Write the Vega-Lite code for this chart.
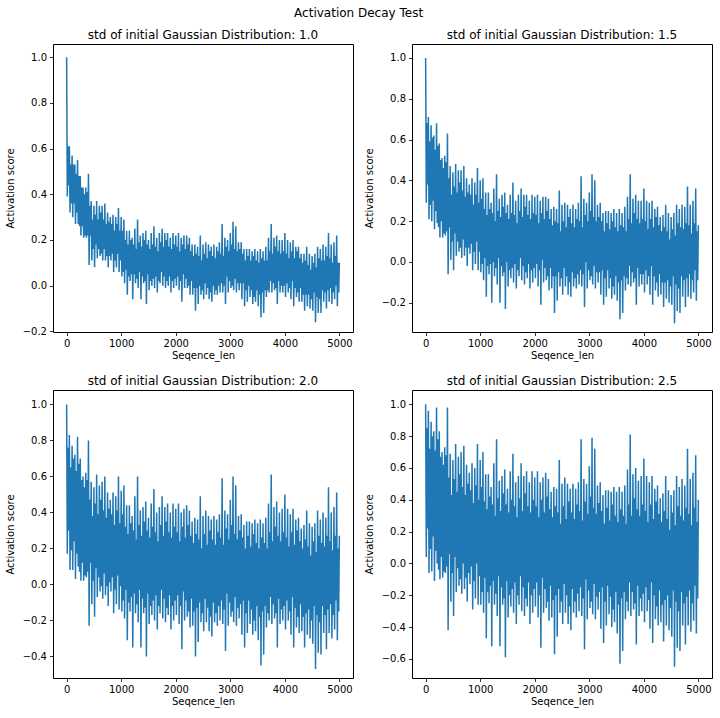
{
  "$schema": "https://vega.github.io/schema/vega-lite/v6.json",
  "padding": {"left": 4, "top": 6, "right": 5, "bottom": 5},
  "background": "white",
  "title": {"text": "Activation Decay Test", "anchor": "middle", "fontSize": 12, "fontWeight": "normal", "baseline": "alphabetic", "offset": 0},
  "columns": 2,
  "spacing": {"row": 58, "column": 59},
  "bounds": "flush",
  "datasets": {
    "s10": [
      {"x":0,"y":1.0},{"x":12,"y":0.39},{"x":25,"y":0.61},{"x":37,"y":0.44},
      {"x":50,"y":0.61},{"x":62,"y":0.32},{"x":75,"y":0.53},{"x":87,"y":0.36},
      {"x":100,"y":0.57},{"x":112,"y":0.30},{"x":125,"y":0.53},{"x":137,"y":0.36},
      {"x":150,"y":0.53},{"x":162,"y":0.27},{"x":175,"y":0.49},{"x":187,"y":0.32},
      {"x":200,"y":0.55},{"x":212,"y":0.27},{"x":225,"y":0.48},{"x":237,"y":0.26},
      {"x":250,"y":0.48},{"x":262,"y":0.22},{"x":275,"y":0.43},{"x":287,"y":0.26},
      {"x":300,"y":0.43},{"x":312,"y":0.21},{"x":325,"y":0.40},{"x":337,"y":0.22},
      {"x":350,"y":0.43},{"x":362,"y":0.21},{"x":375,"y":0.41},{"x":387,"y":0.22},
      {"x":400,"y":0.49},{"x":412,"y":0.09},{"x":425,"y":0.35},{"x":437,"y":0.22},
      {"x":450,"y":0.37},{"x":462,"y":0.11},{"x":475,"y":0.29},{"x":487,"y":0.16},
      {"x":500,"y":0.35},{"x":512,"y":0.08},{"x":525,"y":0.31},{"x":537,"y":0.18},
      {"x":550,"y":0.37},{"x":562,"y":0.12},{"x":575,"y":0.29},{"x":587,"y":0.16},
      {"x":600,"y":0.35},{"x":612,"y":0.13},{"x":625,"y":0.32},{"x":637,"y":0.14},
      {"x":650,"y":0.35},{"x":662,"y":0.11},{"x":675,"y":0.29},{"x":687,"y":0.16},
      {"x":700,"y":0.36},{"x":712,"y":0.11},{"x":725,"y":0.27},{"x":737,"y":0.13},
      {"x":750,"y":0.32},{"x":762,"y":0.08},{"x":775,"y":0.28},{"x":787,"y":0.13},
      {"x":800,"y":0.30},{"x":812,"y":0.11},{"x":825,"y":0.27},{"x":837,"y":0.14},
      {"x":850,"y":0.31},{"x":862,"y":0.06},{"x":875,"y":0.24},{"x":887,"y":0.11},
      {"x":900,"y":0.30},{"x":912,"y":0.08},{"x":925,"y":0.27},{"x":937,"y":0.14},
      {"x":950,"y":0.34},{"x":962,"y":0.06},{"x":975,"y":0.24},{"x":987,"y":0.11},
      {"x":1000,"y":0.30},{"x":1012,"y":0.04},{"x":1025,"y":0.24},{"x":1037,"y":0.06},
      {"x":1050,"y":0.29},{"x":1062,"y":0.01},{"x":1075,"y":0.20},{"x":1087,"y":0.07},
      {"x":1100,"y":0.24},{"x":1112,"y":-0.04},{"x":1125,"y":0.18},{"x":1137,"y":0.04},
      {"x":1150,"y":0.24},{"x":1162,"y":0.02},{"x":1175,"y":0.20},{"x":1187,"y":0.05},
      {"x":1200,"y":0.21},{"x":1212,"y":-0.06},{"x":1225,"y":0.18},{"x":1237,"y":0.05},
      {"x":1250,"y":0.25},{"x":1262,"y":0.01},{"x":1275,"y":0.16},{"x":1287,"y":0.03},
      {"x":1300,"y":0.29},{"x":1312,"y":-0.01},{"x":1325,"y":0.19},{"x":1337,"y":0.06},
      {"x":1350,"y":0.22},{"x":1362,"y":-0.06},{"x":1375,"y":0.17},{"x":1387,"y":0.04},
      {"x":1400,"y":0.23},{"x":1412,"y":0.01},{"x":1425,"y":0.20},{"x":1437,"y":0.02},
      {"x":1450,"y":0.24},{"x":1462,"y":-0.08},{"x":1475,"y":0.18},{"x":1487,"y":0.05},
      {"x":1500,"y":0.20},{"x":1512,"y":-0.02},{"x":1525,"y":0.16},{"x":1537,"y":0.02},
      {"x":1550,"y":0.23},{"x":1562,"y":0.00},{"x":1575,"y":0.18},{"x":1587,"y":0.03},
      {"x":1600,"y":0.26},{"x":1612,"y":-0.01},{"x":1625,"y":0.17},{"x":1637,"y":0.04},
      {"x":1650,"y":0.21},{"x":1662,"y":-0.03},{"x":1675,"y":0.15},{"x":1687,"y":0.02},
      {"x":1700,"y":0.23},{"x":1712,"y":0.01},{"x":1725,"y":0.19},{"x":1737,"y":0.06},
      {"x":1750,"y":0.25},{"x":1762,"y":0.00},{"x":1775,"y":0.17},{"x":1787,"y":0.04},
      {"x":1800,"y":0.23},{"x":1812,"y":-0.01},{"x":1825,"y":0.20},{"x":1837,"y":0.02},
      {"x":1850,"y":0.23},{"x":1862,"y":0.00},{"x":1875,"y":0.17},{"x":1887,"y":0.04},
      {"x":1900,"y":0.21},{"x":1912,"y":-0.03},{"x":1925,"y":0.16},{"x":1937,"y":0.02},
      {"x":1950,"y":0.23},{"x":1962,"y":-0.01},{"x":1975,"y":0.18},{"x":1987,"y":0.03},
      {"x":2000,"y":0.22},{"x":2012,"y":0.00},{"x":2025,"y":0.17},{"x":2037,"y":0.04},
      {"x":2050,"y":0.23},{"x":2062,"y":-0.02},{"x":2075,"y":0.15},{"x":2087,"y":0.02},
      {"x":2100,"y":0.21},{"x":2112,"y":-0.07},{"x":2125,"y":0.18},{"x":2137,"y":0.05},
      {"x":2150,"y":0.22},{"x":2162,"y":-0.01},{"x":2175,"y":0.16},{"x":2187,"y":0.03},
      {"x":2200,"y":0.22},{"x":2212,"y":-0.01},{"x":2225,"y":0.18},{"x":2237,"y":0.00},
      {"x":2250,"y":0.21},{"x":2262,"y":-0.04},{"x":2275,"y":0.15},{"x":2287,"y":0.02},
      {"x":2300,"y":0.18},{"x":2312,"y":-0.04},{"x":2325,"y":0.13},{"x":2337,"y":-0.01},
      {"x":2350,"y":0.18},{"x":2362,"y":-0.11},{"x":2375,"y":0.14},{"x":2387,"y":-0.01},
      {"x":2400,"y":0.17},{"x":2412,"y":-0.08},{"x":2425,"y":0.13},{"x":2437,"y":0.00},
      {"x":2450,"y":0.22},{"x":2462,"y":-0.04},{"x":2475,"y":0.11},{"x":2487,"y":-0.02},
      {"x":2500,"y":0.18},{"x":2512,"y":-0.06},{"x":2525,"y":0.14},{"x":2537,"y":0.01},
      {"x":2550,"y":0.19},{"x":2562,"y":-0.04},{"x":2575,"y":0.12},{"x":2587,"y":-0.01},
      {"x":2600,"y":0.18},{"x":2612,"y":-0.06},{"x":2625,"y":0.15},{"x":2637,"y":-0.03},
      {"x":2650,"y":0.17},{"x":2662,"y":-0.07},{"x":2675,"y":0.13},{"x":2687,"y":0.00},
      {"x":2700,"y":0.18},{"x":2712,"y":-0.04},{"x":2725,"y":0.12},{"x":2737,"y":-0.02},
      {"x":2750,"y":0.17},{"x":2762,"y":-0.04},{"x":2775,"y":0.15},{"x":2787,"y":0.00},
      {"x":2800,"y":0.19},{"x":2812,"y":-0.03},{"x":2825,"y":0.14},{"x":2837,"y":0.01},
      {"x":2850,"y":0.27},{"x":2862,"y":-0.03},{"x":2875,"y":0.13},{"x":2887,"y":0.00},
      {"x":2900,"y":0.21},{"x":2912,"y":-0.08},{"x":2925,"y":0.17},{"x":2937,"y":0.04},
      {"x":2950,"y":0.20},{"x":2962,"y":-0.03},{"x":2975,"y":0.15},{"x":2987,"y":0.02},
      {"x":3000,"y":0.23},{"x":3012,"y":-0.01},{"x":3025,"y":0.18},{"x":3037,"y":0.00},
      {"x":3050,"y":0.28},{"x":3062,"y":-0.02},{"x":3075,"y":0.16},{"x":3087,"y":0.03},
      {"x":3100,"y":0.26},{"x":3112,"y":-0.03},{"x":3125,"y":0.15},{"x":3137,"y":0.01},
      {"x":3150,"y":0.19},{"x":3162,"y":-0.02},{"x":3175,"y":0.16},{"x":3187,"y":0.01},
      {"x":3200,"y":0.19},{"x":3212,"y":-0.06},{"x":3225,"y":0.14},{"x":3237,"y":0.01},
      {"x":3250,"y":0.16},{"x":3262,"y":-0.09},{"x":3275,"y":0.11},{"x":3287,"y":-0.02},
      {"x":3300,"y":0.16},{"x":3312,"y":-0.07},{"x":3325,"y":0.13},{"x":3337,"y":0.00},
      {"x":3350,"y":0.16},{"x":3362,"y":-0.05},{"x":3375,"y":0.11},{"x":3387,"y":-0.02},
      {"x":3400,"y":0.15},{"x":3412,"y":-0.08},{"x":3425,"y":0.13},{"x":3437,"y":-0.05},
      {"x":3450,"y":0.16},{"x":3462,"y":-0.07},{"x":3475,"y":0.11},{"x":3487,"y":-0.02},
      {"x":3500,"y":0.15},{"x":3512,"y":-0.09},{"x":3525,"y":0.10},{"x":3537,"y":-0.04},
      {"x":3550,"y":0.16},{"x":3562,"y":-0.14},{"x":3575,"y":0.12},{"x":3587,"y":-0.03},
      {"x":3600,"y":0.15},{"x":3612,"y":-0.12},{"x":3625,"y":0.11},{"x":3637,"y":-0.02},
      {"x":3650,"y":0.17},{"x":3662,"y":-0.05},{"x":3675,"y":0.11},{"x":3687,"y":-0.02},
      {"x":3700,"y":0.21},{"x":3712,"y":-0.03},{"x":3725,"y":0.15},{"x":3737,"y":0.02},
      {"x":3750,"y":0.27},{"x":3762,"y":-0.03},{"x":3775,"y":0.14},{"x":3787,"y":0.01},
      {"x":3800,"y":0.21},{"x":3812,"y":-0.02},{"x":3825,"y":0.17},{"x":3837,"y":-0.01},
      {"x":3850,"y":0.22},{"x":3862,"y":-0.08},{"x":3875,"y":0.15},{"x":3887,"y":0.02},
      {"x":3900,"y":0.20},{"x":3912,"y":-0.03},{"x":3925,"y":0.14},{"x":3937,"y":0.00},
      {"x":3950,"y":0.20},{"x":3962,"y":-0.03},{"x":3975,"y":0.15},{"x":3987,"y":0.00},
      {"x":4000,"y":0.23},{"x":4012,"y":-0.05},{"x":4025,"y":0.14},{"x":4037,"y":0.01},
      {"x":4050,"y":0.20},{"x":4062,"y":-0.03},{"x":4075,"y":0.12},{"x":4087,"y":-0.01},
      {"x":4100,"y":0.19},{"x":4112,"y":-0.06},{"x":4125,"y":0.15},{"x":4137,"y":0.02},
      {"x":4150,"y":0.20},{"x":4162,"y":-0.09},{"x":4175,"y":0.12},{"x":4187,"y":-0.01},
      {"x":4200,"y":0.17},{"x":4212,"y":-0.05},{"x":4225,"y":0.15},{"x":4237,"y":-0.03},
      {"x":4250,"y":0.17},{"x":4262,"y":-0.07},{"x":4275,"y":0.12},{"x":4287,"y":-0.01},
      {"x":4300,"y":0.14},{"x":4312,"y":-0.07},{"x":4325,"y":0.10},{"x":4337,"y":-0.04},
      {"x":4350,"y":0.14},{"x":4362,"y":-0.11},{"x":4375,"y":0.11},{"x":4387,"y":-0.04},
      {"x":4400,"y":0.17},{"x":4412,"y":-0.09},{"x":4425,"y":0.09},{"x":4437,"y":-0.04},
      {"x":4450,"y":0.14},{"x":4462,"y":-0.10},{"x":4475,"y":0.07},{"x":4487,"y":-0.06},
      {"x":4500,"y":0.13},{"x":4512,"y":-0.11},{"x":4525,"y":0.10},{"x":4537,"y":-0.03},
      {"x":4550,"y":0.14},{"x":4562,"y":-0.16},{"x":4575,"y":0.08},{"x":4587,"y":-0.05},
      {"x":4600,"y":0.17},{"x":4612,"y":-0.12},{"x":4625,"y":0.12},{"x":4637,"y":-0.06},
      {"x":4650,"y":0.16},{"x":4662,"y":-0.12},{"x":4675,"y":0.11},{"x":4687,"y":-0.02},
      {"x":4700,"y":0.18},{"x":4712,"y":-0.07},{"x":4725,"y":0.11},{"x":4737,"y":-0.03},
      {"x":4750,"y":0.17},{"x":4762,"y":-0.10},{"x":4775,"y":0.13},{"x":4787,"y":-0.02},
      {"x":4800,"y":0.23},{"x":4812,"y":-0.07},{"x":4825,"y":0.12},{"x":4837,"y":-0.01},
      {"x":4850,"y":0.18},{"x":4862,"y":-0.08},{"x":4875,"y":0.10},{"x":4887,"y":-0.03},
      {"x":4900,"y":0.19},{"x":4912,"y":-0.06},{"x":4925,"y":0.13},{"x":4937,"y":0.00},
      {"x":4950,"y":0.22},{"x":4962,"y":-0.09},{"x":4975,"y":0.10},{"x":4987,"y":-0.03},
      {"x":4999,"y":0.10}
    ],
    "s15": [
      {"x":0,"y":1.0},{"x":12,"y":0.29},{"x":25,"y":0.68},{"x":37,"y":0.38},
      {"x":50,"y":0.71},{"x":62,"y":0.21},{"x":75,"y":0.59},{"x":87,"y":0.28},
      {"x":100,"y":0.67},{"x":112,"y":0.20},{"x":125,"y":0.61},{"x":137,"y":0.30},
      {"x":150,"y":0.62},{"x":162,"y":0.16},{"x":175,"y":0.55},{"x":187,"y":0.25},
      {"x":200,"y":0.68},{"x":212,"y":0.19},{"x":225,"y":0.57},{"x":237,"y":0.17},
      {"x":250,"y":0.58},{"x":262,"y":0.12},{"x":275,"y":0.50},{"x":287,"y":0.20},
      {"x":300,"y":0.51},{"x":312,"y":0.12},{"x":325,"y":0.46},{"x":337,"y":0.14},
      {"x":350,"y":0.52},{"x":362,"y":0.13},{"x":375,"y":0.49},{"x":387,"y":0.15},
      {"x":400,"y":0.63},{"x":412,"y":-0.06},{"x":425,"y":0.41},{"x":437,"y":0.17},
      {"x":450,"y":0.47},{"x":462,"y":0.01},{"x":475,"y":0.33},{"x":487,"y":0.10},
      {"x":500,"y":0.44},{"x":512,"y":-0.04},{"x":525,"y":0.37},{"x":537,"y":0.14},
      {"x":550,"y":0.48},{"x":562,"y":0.03},{"x":575,"y":0.34},{"x":587,"y":0.10},
      {"x":600,"y":0.45},{"x":612,"y":0.05},{"x":625,"y":0.39},{"x":637,"y":0.07},
      {"x":650,"y":0.45},{"x":662,"y":0.02},{"x":675,"y":0.35},{"x":687,"y":0.11},
      {"x":700,"y":0.47},{"x":712,"y":0.03},{"x":725,"y":0.32},{"x":737,"y":0.07},
      {"x":750,"y":0.41},{"x":762,"y":-0.02},{"x":775,"y":0.34},{"x":787,"y":0.07},
      {"x":800,"y":0.38},{"x":812,"y":0.04},{"x":825,"y":0.33},{"x":837,"y":0.09},
      {"x":850,"y":0.41},{"x":862,"y":-0.04},{"x":875,"y":0.28},{"x":887,"y":0.05},
      {"x":900,"y":0.39},{"x":912,"y":-0.01},{"x":925,"y":0.33},{"x":937,"y":0.10},
      {"x":950,"y":0.46},{"x":962,"y":-0.04},{"x":975,"y":0.29},{"x":987,"y":0.05},
      {"x":1000,"y":0.40},{"x":1012,"y":-0.05},{"x":1025,"y":0.31},{"x":1037,"y":-0.01},
      {"x":1050,"y":0.41},{"x":1062,"y":-0.09},{"x":1075,"y":0.26},{"x":1087,"y":0.02},
      {"x":1100,"y":0.34},{"x":1112,"y":-0.17},{"x":1125,"y":0.23},{"x":1137,"y":-0.02},
      {"x":1150,"y":0.34},{"x":1162,"y":-0.06},{"x":1175,"y":0.26},{"x":1187,"y":-0.01},
      {"x":1200,"y":0.29},{"x":1212,"y":-0.20},{"x":1225,"y":0.24},{"x":1237,"y":0.00},
      {"x":1250,"y":0.36},{"x":1262,"y":-0.07},{"x":1275,"y":0.20},{"x":1287,"y":-0.03},
      {"x":1300,"y":0.43},{"x":1312,"y":-0.11},{"x":1325,"y":0.25},{"x":1337,"y":0.02},
      {"x":1350,"y":0.31},{"x":1362,"y":-0.20},{"x":1375,"y":0.22},{"x":1387,"y":-0.02},
      {"x":1400,"y":0.33},{"x":1412,"y":-0.07},{"x":1425,"y":0.27},{"x":1437,"y":-0.05},
      {"x":1450,"y":0.34},{"x":1462,"y":-0.23},{"x":1475,"y":0.24},{"x":1487,"y":0.00},
      {"x":1500,"y":0.28},{"x":1512,"y":-0.12},{"x":1525,"y":0.21},{"x":1537,"y":-0.04},
      {"x":1550,"y":0.33},{"x":1562,"y":-0.08},{"x":1575,"y":0.24},{"x":1587,"y":-0.03},
      {"x":1600,"y":0.39},{"x":1612,"y":-0.10},{"x":1625,"y":0.23},{"x":1637,"y":-0.01},
      {"x":1650,"y":0.30},{"x":1662,"y":-0.13},{"x":1675,"y":0.19},{"x":1687,"y":-0.04},
      {"x":1700,"y":0.33},{"x":1712,"y":-0.07},{"x":1725,"y":0.25},{"x":1737,"y":0.02},
      {"x":1750,"y":0.36},{"x":1762,"y":-0.09},{"x":1775,"y":0.22},{"x":1787,"y":-0.02},
      {"x":1800,"y":0.33},{"x":1812,"y":-0.11},{"x":1825,"y":0.27},{"x":1837,"y":-0.05},
      {"x":1850,"y":0.33},{"x":1862,"y":-0.08},{"x":1875,"y":0.23},{"x":1887,"y":-0.01},
      {"x":1900,"y":0.30},{"x":1912,"y":-0.13},{"x":1925,"y":0.21},{"x":1937,"y":-0.04},
      {"x":1950,"y":0.33},{"x":1962,"y":-0.10},{"x":1975,"y":0.24},{"x":1987,"y":-0.03},
      {"x":2000,"y":0.32},{"x":2012,"y":-0.08},{"x":2025,"y":0.23},{"x":2037,"y":-0.01},
      {"x":2050,"y":0.33},{"x":2062,"y":-0.12},{"x":2075,"y":0.19},{"x":2087,"y":-0.04},
      {"x":2100,"y":0.30},{"x":2112,"y":-0.21},{"x":2125,"y":0.24},{"x":2137,"y":0.01},
      {"x":2150,"y":0.32},{"x":2162,"y":-0.10},{"x":2175,"y":0.21},{"x":2187,"y":-0.03},
      {"x":2200,"y":0.32},{"x":2212,"y":-0.09},{"x":2225,"y":0.25},{"x":2237,"y":-0.07},
      {"x":2250,"y":0.31},{"x":2262,"y":-0.14},{"x":2275,"y":0.21},{"x":2287,"y":-0.03},
      {"x":2300,"y":0.26},{"x":2312,"y":-0.13},{"x":2325,"y":0.18},{"x":2337,"y":-0.07},
      {"x":2350,"y":0.27},{"x":2362,"y":-0.25},{"x":2375,"y":0.20},{"x":2387,"y":-0.07},
      {"x":2400,"y":0.26},{"x":2412,"y":-0.19},{"x":2425,"y":0.19},{"x":2437,"y":-0.05},
      {"x":2450,"y":0.35},{"x":2462,"y":-0.12},{"x":2475,"y":0.15},{"x":2487,"y":-0.08},
      {"x":2500,"y":0.28},{"x":2512,"y":-0.16},{"x":2525,"y":0.20},{"x":2537,"y":-0.03},
      {"x":2550,"y":0.29},{"x":2562,"y":-0.12},{"x":2575,"y":0.17},{"x":2587,"y":-0.07},
      {"x":2600,"y":0.28},{"x":2612,"y":-0.16},{"x":2625,"y":0.22},{"x":2637,"y":-0.10},
      {"x":2650,"y":0.26},{"x":2662,"y":-0.17},{"x":2675,"y":0.19},{"x":2687,"y":-0.05},
      {"x":2700,"y":0.28},{"x":2712,"y":-0.12},{"x":2725,"y":0.17},{"x":2737,"y":-0.08},
      {"x":2750,"y":0.26},{"x":2762,"y":-0.13},{"x":2775,"y":0.21},{"x":2787,"y":-0.06},
      {"x":2800,"y":0.29},{"x":2812,"y":-0.11},{"x":2825,"y":0.20},{"x":2837,"y":-0.04},
      {"x":2850,"y":0.42},{"x":2862,"y":-0.12},{"x":2875,"y":0.17},{"x":2887,"y":-0.06},
      {"x":2900,"y":0.31},{"x":2912,"y":-0.22},{"x":2925,"y":0.23},{"x":2937,"y":0.00},
      {"x":2950,"y":0.29},{"x":2962,"y":-0.13},{"x":2975,"y":0.20},{"x":2987,"y":-0.04},
      {"x":3000,"y":0.34},{"x":3012,"y":-0.09},{"x":3025,"y":0.25},{"x":3037,"y":-0.07},
      {"x":3050,"y":0.43},{"x":3062,"y":-0.11},{"x":3075,"y":0.22},{"x":3087,"y":-0.02},
      {"x":3100,"y":0.40},{"x":3112,"y":-0.13},{"x":3125,"y":0.20},{"x":3137,"y":-0.05},
      {"x":3150,"y":0.28},{"x":3162,"y":-0.10},{"x":3175,"y":0.22},{"x":3187,"y":-0.05},
      {"x":3200,"y":0.29},{"x":3212,"y":-0.16},{"x":3225,"y":0.20},{"x":3237,"y":-0.04},
      {"x":3250,"y":0.24},{"x":3262,"y":-0.21},{"x":3275,"y":0.15},{"x":3287,"y":-0.08},
      {"x":3300,"y":0.25},{"x":3312,"y":-0.17},{"x":3325,"y":0.19},{"x":3337,"y":-0.04},
      {"x":3350,"y":0.25},{"x":3362,"y":-0.13},{"x":3375,"y":0.16},{"x":3387,"y":-0.08},
      {"x":3400,"y":0.24},{"x":3412,"y":-0.18},{"x":3425,"y":0.20},{"x":3437,"y":-0.12},
      {"x":3450,"y":0.26},{"x":3462,"y":-0.16},{"x":3475,"y":0.17},{"x":3487,"y":-0.07},
      {"x":3500,"y":0.24},{"x":3512,"y":-0.19},{"x":3525,"y":0.15},{"x":3537,"y":-0.10},
      {"x":3550,"y":0.26},{"x":3562,"y":-0.28},{"x":3575,"y":0.18},{"x":3587,"y":-0.09},
      {"x":3600,"y":0.24},{"x":3612,"y":-0.25},{"x":3625,"y":0.17},{"x":3637,"y":-0.07},
      {"x":3650,"y":0.27},{"x":3662,"y":-0.14},{"x":3675,"y":0.15},{"x":3687,"y":-0.08},
      {"x":3700,"y":0.32},{"x":3712,"y":-0.11},{"x":3725,"y":0.21},{"x":3737,"y":-0.02},
      {"x":3750,"y":0.43},{"x":3762,"y":-0.12},{"x":3775,"y":0.19},{"x":3787,"y":-0.05},
      {"x":3800,"y":0.31},{"x":3812,"y":-0.10},{"x":3825,"y":0.24},{"x":3837,"y":-0.08},
      {"x":3850,"y":0.33},{"x":3862,"y":-0.21},{"x":3875,"y":0.21},{"x":3887,"y":-0.03},
      {"x":3900,"y":0.30},{"x":3912,"y":-0.12},{"x":3925,"y":0.19},{"x":3937,"y":-0.06},
      {"x":3950,"y":0.30},{"x":3962,"y":-0.11},{"x":3975,"y":0.21},{"x":3987,"y":-0.06},
      {"x":4000,"y":0.36},{"x":4012,"y":-0.15},{"x":4025,"y":0.20},{"x":4037,"y":-0.04},
      {"x":4050,"y":0.30},{"x":4062,"y":-0.11},{"x":4075,"y":0.16},{"x":4087,"y":-0.07},
      {"x":4100,"y":0.29},{"x":4112,"y":-0.16},{"x":4125,"y":0.21},{"x":4137,"y":-0.02},
      {"x":4150,"y":0.30},{"x":4162,"y":-0.21},{"x":4175,"y":0.17},{"x":4187,"y":-0.07},
      {"x":4200,"y":0.26},{"x":4212,"y":-0.14},{"x":4225,"y":0.22},{"x":4237,"y":-0.10},
      {"x":4250,"y":0.27},{"x":4262,"y":-0.17},{"x":4275,"y":0.18},{"x":4287,"y":-0.06},
      {"x":4300,"y":0.22},{"x":4312,"y":-0.16},{"x":4325,"y":0.15},{"x":4337,"y":-0.10},
      {"x":4350,"y":0.23},{"x":4362,"y":-0.22},{"x":4375,"y":0.17},{"x":4387,"y":-0.10},
      {"x":4400,"y":0.28},{"x":4412,"y":-0.18},{"x":4425,"y":0.15},{"x":4437,"y":-0.09},
      {"x":4450,"y":0.24},{"x":4462,"y":-0.20},{"x":4475,"y":0.11},{"x":4487,"y":-0.12},
      {"x":4500,"y":0.22},{"x":4512,"y":-0.21},{"x":4525,"y":0.16},{"x":4537,"y":-0.07},
      {"x":4550,"y":0.24},{"x":4562,"y":-0.30},{"x":4575,"y":0.13},{"x":4587,"y":-0.11},
      {"x":4600,"y":0.28},{"x":4612,"y":-0.24},{"x":4625,"y":0.19},{"x":4637,"y":-0.13},
      {"x":4650,"y":0.26},{"x":4662,"y":-0.25},{"x":4675,"y":0.17},{"x":4687,"y":-0.07},
      {"x":4700,"y":0.28},{"x":4712,"y":-0.17},{"x":4725,"y":0.16},{"x":4737,"y":-0.09},
      {"x":4750,"y":0.27},{"x":4762,"y":-0.22},{"x":4775,"y":0.19},{"x":4787,"y":-0.08},
      {"x":4800,"y":0.37},{"x":4812,"y":-0.17},{"x":4825,"y":0.18},{"x":4837,"y":-0.06},
      {"x":4850,"y":0.28},{"x":4862,"y":-0.18},{"x":4875,"y":0.14},{"x":4887,"y":-0.09},
      {"x":4900,"y":0.30},{"x":4912,"y":-0.15},{"x":4925,"y":0.19},{"x":4937,"y":-0.04},
      {"x":4950,"y":0.36},{"x":4962,"y":-0.19},{"x":4975,"y":0.15},{"x":4987,"y":-0.09},
      {"x":4999,"y":0.18}
    ],
    "s20": [
      {"x":0,"y":1.0},{"x":12,"y":0.17},{"x":25,"y":0.76},{"x":37,"y":0.30},
      {"x":50,"y":0.83},{"x":62,"y":0.08},{"x":75,"y":0.65},{"x":87,"y":0.19},
      {"x":100,"y":0.77},{"x":112,"y":0.08},{"x":125,"y":0.70},{"x":137,"y":0.24},
      {"x":150,"y":0.72},{"x":162,"y":0.03},{"x":175,"y":0.63},{"x":187,"y":0.17},
      {"x":200,"y":0.82},{"x":212,"y":0.10},{"x":225,"y":0.67},{"x":237,"y":0.07},
      {"x":250,"y":0.70},{"x":262,"y":0.02},{"x":275,"y":0.58},{"x":287,"y":0.12},
      {"x":300,"y":0.60},{"x":312,"y":0.02},{"x":325,"y":0.54},{"x":337,"y":0.05},
      {"x":350,"y":0.62},{"x":362,"y":0.04},{"x":375,"y":0.58},{"x":387,"y":0.07},
      {"x":400,"y":0.80},{"x":412,"y":-0.23},{"x":425,"y":0.47},{"x":437,"y":0.12},
      {"x":450,"y":0.57},{"x":462,"y":-0.11},{"x":475,"y":0.38},{"x":487,"y":0.02},
      {"x":500,"y":0.54},{"x":512,"y":-0.18},{"x":525,"y":0.45},{"x":537,"y":0.09},
      {"x":550,"y":0.61},{"x":562,"y":-0.07},{"x":575,"y":0.39},{"x":587,"y":0.04},
      {"x":600,"y":0.55},{"x":612,"y":-0.04},{"x":625,"y":0.47},{"x":637,"y":-0.01},
      {"x":650,"y":0.57},{"x":662,"y":-0.08},{"x":675,"y":0.41},{"x":687,"y":0.06},
      {"x":700,"y":0.60},{"x":712,"y":-0.06},{"x":725,"y":0.37},{"x":737,"y":-0.01},
      {"x":750,"y":0.51},{"x":762,"y":-0.12},{"x":775,"y":0.42},{"x":787,"y":0.01},
      {"x":800,"y":0.47},{"x":812,"y":-0.04},{"x":825,"y":0.39},{"x":837,"y":0.04},
      {"x":850,"y":0.51},{"x":862,"y":-0.16},{"x":875,"y":0.33},{"x":887,"y":-0.03},
      {"x":900,"y":0.49},{"x":912,"y":-0.11},{"x":925,"y":0.41},{"x":937,"y":0.05},
      {"x":950,"y":0.60},{"x":962,"y":-0.14},{"x":975,"y":0.34},{"x":987,"y":-0.01},
      {"x":1000,"y":0.52},{"x":1012,"y":-0.15},{"x":1025,"y":0.39},{"x":1037,"y":-0.09},
      {"x":1050,"y":0.55},{"x":1062,"y":-0.19},{"x":1075,"y":0.32},{"x":1087,"y":-0.03},
      {"x":1100,"y":0.44},{"x":1112,"y":-0.31},{"x":1125,"y":0.28},{"x":1137,"y":-0.10},
      {"x":1150,"y":0.44},{"x":1162,"y":-0.15},{"x":1175,"y":0.34},{"x":1187,"y":-0.07},
      {"x":1200,"y":0.38},{"x":1212,"y":-0.35},{"x":1225,"y":0.30},{"x":1237,"y":-0.05},
      {"x":1250,"y":0.49},{"x":1262,"y":-0.16},{"x":1275,"y":0.25},{"x":1287,"y":-0.11},
      {"x":1300,"y":0.60},{"x":1312,"y":-0.21},{"x":1325,"y":0.33},{"x":1337,"y":-0.03},
      {"x":1350,"y":0.41},{"x":1362,"y":-0.35},{"x":1375,"y":0.27},{"x":1387,"y":-0.08},
      {"x":1400,"y":0.43},{"x":1412,"y":-0.16},{"x":1425,"y":0.35},{"x":1437,"y":-0.13},
      {"x":1450,"y":0.46},{"x":1462,"y":-0.40},{"x":1475,"y":0.30},{"x":1487,"y":-0.05},
      {"x":1500,"y":0.37},{"x":1512,"y":-0.22},{"x":1525,"y":0.26},{"x":1537,"y":-0.12},
      {"x":1550,"y":0.45},{"x":1562,"y":-0.17},{"x":1575,"y":0.32},{"x":1587,"y":-0.09},
      {"x":1600,"y":0.53},{"x":1612,"y":-0.20},{"x":1625,"y":0.29},{"x":1637,"y":-0.06},
      {"x":1650,"y":0.40},{"x":1662,"y":-0.25},{"x":1675,"y":0.24},{"x":1687,"y":-0.12},
      {"x":1700,"y":0.43},{"x":1712,"y":-0.16},{"x":1725,"y":0.33},{"x":1737,"y":-0.03},
      {"x":1750,"y":0.49},{"x":1762,"y":-0.19},{"x":1775,"y":0.27},{"x":1787,"y":-0.08},
      {"x":1800,"y":0.43},{"x":1812,"y":-0.21},{"x":1825,"y":0.35},{"x":1837,"y":-0.13},
      {"x":1850,"y":0.45},{"x":1862,"y":-0.17},{"x":1875,"y":0.29},{"x":1887,"y":-0.06},
      {"x":1900,"y":0.40},{"x":1912,"y":-0.25},{"x":1925,"y":0.26},{"x":1937,"y":-0.12},
      {"x":1950,"y":0.45},{"x":1962,"y":-0.20},{"x":1975,"y":0.32},{"x":1987,"y":-0.09},
      {"x":2000,"y":0.42},{"x":2012,"y":-0.17},{"x":2025,"y":0.29},{"x":2037,"y":-0.06},
      {"x":2050,"y":0.45},{"x":2062,"y":-0.22},{"x":2075,"y":0.24},{"x":2087,"y":-0.12},
      {"x":2100,"y":0.40},{"x":2112,"y":-0.36},{"x":2125,"y":0.32},{"x":2137,"y":-0.04},
      {"x":2150,"y":0.42},{"x":2162,"y":-0.20},{"x":2175,"y":0.26},{"x":2187,"y":-0.09},
      {"x":2200,"y":0.44},{"x":2212,"y":-0.18},{"x":2225,"y":0.33},{"x":2237,"y":-0.15},
      {"x":2250,"y":0.41},{"x":2262,"y":-0.24},{"x":2275,"y":0.27},{"x":2287,"y":-0.08},
      {"x":2300,"y":0.35},{"x":2312,"y":-0.23},{"x":2325,"y":0.23},{"x":2337,"y":-0.15},
      {"x":2350,"y":0.37},{"x":2362,"y":-0.40},{"x":2375,"y":0.28},{"x":2387,"y":-0.13},
      {"x":2400,"y":0.36},{"x":2412,"y":-0.32},{"x":2425,"y":0.25},{"x":2437,"y":-0.10},
      {"x":2450,"y":0.49},{"x":2462,"y":-0.21},{"x":2475,"y":0.20},{"x":2487,"y":-0.16},
      {"x":2500,"y":0.38},{"x":2512,"y":-0.26},{"x":2525,"y":0.28},{"x":2537,"y":-0.08},
      {"x":2550,"y":0.41},{"x":2562,"y":-0.21},{"x":2575,"y":0.22},{"x":2587,"y":-0.13},
      {"x":2600,"y":0.38},{"x":2612,"y":-0.26},{"x":2625,"y":0.30},{"x":2637,"y":-0.18},
      {"x":2650,"y":0.36},{"x":2662,"y":-0.29},{"x":2675,"y":0.25},{"x":2687,"y":-0.10},
      {"x":2700,"y":0.38},{"x":2712,"y":-0.21},{"x":2725,"y":0.22},{"x":2737,"y":-0.16},
      {"x":2750,"y":0.36},{"x":2762,"y":-0.23},{"x":2775,"y":0.29},{"x":2787,"y":-0.12},
      {"x":2800,"y":0.39},{"x":2812,"y":-0.20},{"x":2825,"y":0.26},{"x":2837,"y":-0.09},
      {"x":2850,"y":0.59},{"x":2862,"y":-0.22},{"x":2875,"y":0.22},{"x":2887,"y":-0.14},
      {"x":2900,"y":0.41},{"x":2912,"y":-0.37},{"x":2925,"y":0.31},{"x":2937,"y":-0.05},
      {"x":2950,"y":0.39},{"x":2962,"y":-0.23},{"x":2975,"y":0.25},{"x":2987,"y":-0.10},
      {"x":3000,"y":0.47},{"x":3012,"y":-0.18},{"x":3025,"y":0.33},{"x":3037,"y":-0.15},
      {"x":3050,"y":0.60},{"x":3062,"y":-0.21},{"x":3075,"y":0.28},{"x":3087,"y":-0.07},
      {"x":3100,"y":0.55},{"x":3112,"y":-0.23},{"x":3125,"y":0.25},{"x":3137,"y":-0.13},
      {"x":3150,"y":0.38},{"x":3162,"y":-0.19},{"x":3175,"y":0.30},{"x":3187,"y":-0.11},
      {"x":3200,"y":0.39},{"x":3212,"y":-0.28},{"x":3225,"y":0.26},{"x":3237,"y":-0.09},
      {"x":3250,"y":0.33},{"x":3262,"y":-0.35},{"x":3275,"y":0.20},{"x":3287,"y":-0.16},
      {"x":3300,"y":0.35},{"x":3312,"y":-0.27},{"x":3325,"y":0.27},{"x":3337,"y":-0.09},
      {"x":3350,"y":0.35},{"x":3362,"y":-0.22},{"x":3375,"y":0.21},{"x":3387,"y":-0.14},
      {"x":3400,"y":0.34},{"x":3412,"y":-0.28},{"x":3425,"y":0.28},{"x":3437,"y":-0.20},
      {"x":3450,"y":0.36},{"x":3462,"y":-0.26},{"x":3475,"y":0.23},{"x":3487,"y":-0.12},
      {"x":3500,"y":0.34},{"x":3512,"y":-0.31},{"x":3525,"y":0.20},{"x":3537,"y":-0.18},
      {"x":3550,"y":0.36},{"x":3562,"y":-0.45},{"x":3575,"y":0.26},{"x":3587,"y":-0.15},
      {"x":3600,"y":0.34},{"x":3612,"y":-0.39},{"x":3625,"y":0.23},{"x":3637,"y":-0.12},
      {"x":3650,"y":0.37},{"x":3662,"y":-0.24},{"x":3675,"y":0.20},{"x":3687,"y":-0.16},
      {"x":3700,"y":0.45},{"x":3712,"y":-0.20},{"x":3725,"y":0.29},{"x":3737,"y":-0.07},
      {"x":3750,"y":0.61},{"x":3762,"y":-0.22},{"x":3775,"y":0.24},{"x":3787,"y":-0.11},
      {"x":3800,"y":0.43},{"x":3812,"y":-0.19},{"x":3825,"y":0.32},{"x":3837,"y":-0.16},
      {"x":3850,"y":0.46},{"x":3862,"y":-0.35},{"x":3875,"y":0.27},{"x":3887,"y":-0.08},
      {"x":3900,"y":0.40},{"x":3912,"y":-0.22},{"x":3925,"y":0.24},{"x":3937,"y":-0.14},
      {"x":3950,"y":0.42},{"x":3962,"y":-0.20},{"x":3975,"y":0.29},{"x":3987,"y":-0.12},
      {"x":4000,"y":0.50},{"x":4012,"y":-0.25},{"x":4025,"y":0.26},{"x":4037,"y":-0.09},
      {"x":4050,"y":0.42},{"x":4062,"y":-0.20},{"x":4075,"y":0.21},{"x":4087,"y":-0.15},
      {"x":4100,"y":0.39},{"x":4112,"y":-0.28},{"x":4125,"y":0.29},{"x":4137,"y":-0.07},
      {"x":4150,"y":0.42},{"x":4162,"y":-0.35},{"x":4175,"y":0.22},{"x":4187,"y":-0.13},
      {"x":4200,"y":0.36},{"x":4212,"y":-0.24},{"x":4225,"y":0.30},{"x":4237,"y":-0.18},
      {"x":4250,"y":0.37},{"x":4262,"y":-0.27},{"x":4275,"y":0.24},{"x":4287,"y":-0.11},
      {"x":4300,"y":0.31},{"x":4312,"y":-0.26},{"x":4325,"y":0.20},{"x":4337,"y":-0.18},
      {"x":4350,"y":0.33},{"x":4362,"y":-0.35},{"x":4375,"y":0.25},{"x":4387,"y":-0.16},
      {"x":4400,"y":0.41},{"x":4412,"y":-0.28},{"x":4425,"y":0.21},{"x":4437,"y":-0.14},
      {"x":4450,"y":0.34},{"x":4462,"y":-0.30},{"x":4475,"y":0.16},{"x":4487,"y":-0.20},
      {"x":4500,"y":0.32},{"x":4512,"y":-0.33},{"x":4525,"y":0.24},{"x":4537,"y":-0.12},
      {"x":4550,"y":0.34},{"x":4562,"y":-0.47},{"x":4575,"y":0.18},{"x":4587,"y":-0.17},
      {"x":4600,"y":0.41},{"x":4612,"y":-0.38},{"x":4625,"y":0.27},{"x":4637,"y":-0.21},
      {"x":4650,"y":0.36},{"x":4662,"y":-0.39},{"x":4675,"y":0.23},{"x":4687,"y":-0.12},
      {"x":4700,"y":0.40},{"x":4712,"y":-0.27},{"x":4725,"y":0.21},{"x":4737,"y":-0.17},
      {"x":4750,"y":0.37},{"x":4762,"y":-0.36},{"x":4775,"y":0.27},{"x":4787,"y":-0.14},
      {"x":4800,"y":0.54},{"x":4812,"y":-0.27},{"x":4825,"y":0.24},{"x":4837,"y":-0.11},
      {"x":4850,"y":0.40},{"x":4862,"y":-0.30},{"x":4875,"y":0.19},{"x":4887,"y":-0.17},
      {"x":4900,"y":0.43},{"x":4912,"y":-0.25},{"x":4925,"y":0.27},{"x":4937,"y":-0.09},
      {"x":4950,"y":0.51},{"x":4962,"y":-0.31},{"x":4975,"y":0.20},{"x":4987,"y":-0.15},
      {"x":4999,"y":0.27}
    ],
    "s25": [
      {"x":0,"y":1.0},{"x":12,"y":0.04},{"x":25,"y":0.85},{"x":37,"y":0.22},
      {"x":50,"y":0.96},{"x":62,"y":-0.06},{"x":75,"y":0.72},{"x":87,"y":0.09},
      {"x":100,"y":0.89},{"x":112,"y":-0.05},{"x":125,"y":0.80},{"x":137,"y":0.17},
      {"x":150,"y":0.83},{"x":162,"y":-0.11},{"x":175,"y":0.71},{"x":187,"y":0.08},
      {"x":200,"y":0.98},{"x":212,"y":0.00},{"x":225,"y":0.78},{"x":237,"y":-0.04},
      {"x":250,"y":0.83},{"x":262,"y":-0.10},{"x":275,"y":0.67},{"x":287,"y":0.04},
      {"x":300,"y":0.70},{"x":312,"y":-0.09},{"x":325,"y":0.62},{"x":337,"y":-0.05},
      {"x":350,"y":0.73},{"x":362,"y":-0.06},{"x":375,"y":0.68},{"x":387,"y":-0.02},
      {"x":400,"y":0.98},{"x":412,"y":-0.42},{"x":425,"y":0.54},{"x":437,"y":0.06},
      {"x":450,"y":0.69},{"x":462,"y":-0.24},{"x":475,"y":0.43},{"x":487,"y":-0.06},
      {"x":500,"y":0.65},{"x":512,"y":-0.33},{"x":525,"y":0.53},{"x":537,"y":0.04},
      {"x":550,"y":0.75},{"x":562,"y":-0.18},{"x":575,"y":0.45},{"x":587,"y":-0.03},
      {"x":600,"y":0.67},{"x":612,"y":-0.14},{"x":625,"y":0.56},{"x":637,"y":-0.10},
      {"x":650,"y":0.70},{"x":662,"y":-0.19},{"x":675,"y":0.48},{"x":687,"y":0.00},
      {"x":700,"y":0.74},{"x":712,"y":-0.16},{"x":725,"y":0.43},{"x":737,"y":-0.09},
      {"x":750,"y":0.62},{"x":762,"y":-0.24},{"x":775,"y":0.50},{"x":787,"y":-0.06},
      {"x":800,"y":0.57},{"x":812,"y":-0.13},{"x":825,"y":0.46},{"x":837,"y":-0.02},
      {"x":850,"y":0.63},{"x":862,"y":-0.29},{"x":875,"y":0.38},{"x":887,"y":-0.11},
      {"x":900,"y":0.60},{"x":912,"y":-0.22},{"x":925,"y":0.49},{"x":937,"y":0.00},
      {"x":950,"y":0.75},{"x":962,"y":-0.26},{"x":975,"y":0.40},{"x":987,"y":-0.08},
      {"x":1000,"y":0.65},{"x":1012,"y":-0.26},{"x":1025,"y":0.48},{"x":1037,"y":-0.18},
      {"x":1050,"y":0.70},{"x":1062,"y":-0.31},{"x":1075,"y":0.39},{"x":1087,"y":-0.09},
      {"x":1100,"y":0.56},{"x":1112,"y":-0.47},{"x":1125,"y":0.34},{"x":1137,"y":-0.18},
      {"x":1150,"y":0.56},{"x":1162,"y":-0.25},{"x":1175,"y":0.42},{"x":1187,"y":-0.14},
      {"x":1200,"y":0.48},{"x":1212,"y":-0.52},{"x":1225,"y":0.37},{"x":1237,"y":-0.11},
      {"x":1250,"y":0.63},{"x":1262,"y":-0.26},{"x":1275,"y":0.30},{"x":1287,"y":-0.19},
      {"x":1300,"y":0.78},{"x":1312,"y":-0.33},{"x":1325,"y":0.41},{"x":1337,"y":-0.08},
      {"x":1350,"y":0.52},{"x":1362,"y":-0.52},{"x":1375,"y":0.33},{"x":1387,"y":-0.15},
      {"x":1400,"y":0.55},{"x":1412,"y":-0.26},{"x":1425,"y":0.44},{"x":1437,"y":-0.22},
      {"x":1450,"y":0.59},{"x":1462,"y":-0.59},{"x":1475,"y":0.37},{"x":1487,"y":-0.11},
      {"x":1500,"y":0.47},{"x":1512,"y":-0.34},{"x":1525,"y":0.32},{"x":1537,"y":-0.20},
      {"x":1550,"y":0.58},{"x":1562,"y":-0.27},{"x":1575,"y":0.40},{"x":1587,"y":-0.16},
      {"x":1600,"y":0.69},{"x":1612,"y":-0.31},{"x":1625,"y":0.36},{"x":1637,"y":-0.12},
      {"x":1650,"y":0.51},{"x":1662,"y":-0.38},{"x":1675,"y":0.29},{"x":1687,"y":-0.20},
      {"x":1700,"y":0.55},{"x":1712,"y":-0.26},{"x":1725,"y":0.41},{"x":1737,"y":-0.08},
      {"x":1750,"y":0.63},{"x":1762,"y":-0.30},{"x":1775,"y":0.33},{"x":1787,"y":-0.15},
      {"x":1800,"y":0.55},{"x":1812,"y":-0.33},{"x":1825,"y":0.44},{"x":1837,"y":-0.22},
      {"x":1850,"y":0.58},{"x":1862,"y":-0.27},{"x":1875,"y":0.36},{"x":1887,"y":-0.12},
      {"x":1900,"y":0.51},{"x":1912,"y":-0.38},{"x":1925,"y":0.32},{"x":1937,"y":-0.20},
      {"x":1950,"y":0.58},{"x":1962,"y":-0.31},{"x":1975,"y":0.40},{"x":1987,"y":-0.16},
      {"x":2000,"y":0.54},{"x":2012,"y":-0.27},{"x":2025,"y":0.36},{"x":2037,"y":-0.12},
      {"x":2050,"y":0.58},{"x":2062,"y":-0.34},{"x":2075,"y":0.29},{"x":2087,"y":-0.20},
      {"x":2100,"y":0.51},{"x":2112,"y":-0.53},{"x":2125,"y":0.40},{"x":2137,"y":-0.09},
      {"x":2150,"y":0.54},{"x":2162,"y":-0.31},{"x":2175,"y":0.32},{"x":2187,"y":-0.16},
      {"x":2200,"y":0.57},{"x":2212,"y":-0.28},{"x":2225,"y":0.42},{"x":2237,"y":-0.24},
      {"x":2250,"y":0.53},{"x":2262,"y":-0.36},{"x":2275,"y":0.34},{"x":2287,"y":-0.14},
      {"x":2300,"y":0.45},{"x":2312,"y":-0.34},{"x":2325,"y":0.29},{"x":2337,"y":-0.23},
      {"x":2350,"y":0.48},{"x":2362,"y":-0.57},{"x":2375,"y":0.36},{"x":2387,"y":-0.20},
      {"x":2400,"y":0.47},{"x":2412,"y":-0.46},{"x":2425,"y":0.32},{"x":2437,"y":-0.16},
      {"x":2450,"y":0.65},{"x":2462,"y":-0.31},{"x":2475,"y":0.25},{"x":2487,"y":-0.24},
      {"x":2500,"y":0.50},{"x":2512,"y":-0.38},{"x":2525,"y":0.36},{"x":2537,"y":-0.13},
      {"x":2550,"y":0.54},{"x":2562,"y":-0.31},{"x":2575,"y":0.28},{"x":2587,"y":-0.20},
      {"x":2600,"y":0.50},{"x":2612,"y":-0.38},{"x":2625,"y":0.39},{"x":2637,"y":-0.27},
      {"x":2650,"y":0.47},{"x":2662,"y":-0.42},{"x":2675,"y":0.32},{"x":2687,"y":-0.16},
      {"x":2700,"y":0.50},{"x":2712,"y":-0.31},{"x":2725,"y":0.28},{"x":2737,"y":-0.24},
      {"x":2750,"y":0.47},{"x":2762,"y":-0.34},{"x":2775,"y":0.37},{"x":2787,"y":-0.19},
      {"x":2800,"y":0.51},{"x":2812,"y":-0.30},{"x":2825,"y":0.33},{"x":2837,"y":-0.15},
      {"x":2850,"y":0.78},{"x":2862,"y":-0.33},{"x":2875,"y":0.27},{"x":2887,"y":-0.22},
      {"x":2900,"y":0.53},{"x":2912,"y":-0.54},{"x":2925,"y":0.39},{"x":2937,"y":-0.10},
      {"x":2950,"y":0.50},{"x":2962,"y":-0.35},{"x":2975,"y":0.31},{"x":2987,"y":-0.17},
      {"x":3000,"y":0.61},{"x":3012,"y":-0.28},{"x":3025,"y":0.42},{"x":3037,"y":-0.24},
      {"x":3050,"y":0.79},{"x":3062,"y":-0.32},{"x":3075,"y":0.35},{"x":3087,"y":-0.13},
      {"x":3100,"y":0.72},{"x":3112,"y":-0.35},{"x":3125,"y":0.31},{"x":3137,"y":-0.21},
      {"x":3150,"y":0.49},{"x":3162,"y":-0.29},{"x":3175,"y":0.38},{"x":3187,"y":-0.18},
      {"x":3200,"y":0.51},{"x":3212,"y":-0.41},{"x":3225,"y":0.33},{"x":3237,"y":-0.15},
      {"x":3250,"y":0.43},{"x":3262,"y":-0.50},{"x":3275,"y":0.25},{"x":3287,"y":-0.24},
      {"x":3300,"y":0.46},{"x":3312,"y":-0.39},{"x":3325,"y":0.35},{"x":3337,"y":-0.14},
      {"x":3350,"y":0.46},{"x":3362,"y":-0.32},{"x":3375,"y":0.27},{"x":3387,"y":-0.21},
      {"x":3400,"y":0.45},{"x":3412,"y":-0.40},{"x":3425,"y":0.37},{"x":3437,"y":-0.29},
      {"x":3450,"y":0.48},{"x":3462,"y":-0.37},{"x":3475,"y":0.30},{"x":3487,"y":-0.18},
      {"x":3500,"y":0.45},{"x":3512,"y":-0.44},{"x":3525,"y":0.26},{"x":3537,"y":-0.26},
      {"x":3550,"y":0.48},{"x":3562,"y":-0.63},{"x":3575,"y":0.34},{"x":3587,"y":-0.22},
      {"x":3600,"y":0.45},{"x":3612,"y":-0.55},{"x":3625,"y":0.30},{"x":3637,"y":-0.18},
      {"x":3650,"y":0.49},{"x":3662,"y":-0.35},{"x":3675,"y":0.25},{"x":3687,"y":-0.24},
      {"x":3700,"y":0.59},{"x":3712,"y":-0.30},{"x":3725,"y":0.37},{"x":3737,"y":-0.12},
      {"x":3750,"y":0.81},{"x":3762,"y":-0.33},{"x":3775,"y":0.30},{"x":3787,"y":-0.18},
      {"x":3800,"y":0.56},{"x":3812,"y":-0.29},{"x":3825,"y":0.41},{"x":3837,"y":-0.25},
      {"x":3850,"y":0.60},{"x":3862,"y":-0.51},{"x":3875,"y":0.34},{"x":3887,"y":-0.14},
      {"x":3900,"y":0.52},{"x":3912,"y":-0.33},{"x":3925,"y":0.30},{"x":3937,"y":-0.22},
      {"x":3950,"y":0.55},{"x":3962,"y":-0.30},{"x":3975,"y":0.37},{"x":3987,"y":-0.19},
      {"x":4000,"y":0.66},{"x":4012,"y":-0.37},{"x":4025,"y":0.33},{"x":4037,"y":-0.15},
      {"x":4050,"y":0.55},{"x":4062,"y":-0.30},{"x":4075,"y":0.26},{"x":4087,"y":-0.23},
      {"x":4100,"y":0.51},{"x":4112,"y":-0.41},{"x":4125,"y":0.37},{"x":4137,"y":-0.12},
      {"x":4150,"y":0.55},{"x":4162,"y":-0.50},{"x":4175,"y":0.28},{"x":4187,"y":-0.20},
      {"x":4200,"y":0.47},{"x":4212,"y":-0.35},{"x":4225,"y":0.39},{"x":4237,"y":-0.27},
      {"x":4250,"y":0.49},{"x":4262,"y":-0.39},{"x":4275,"y":0.31},{"x":4287,"y":-0.17},
      {"x":4300,"y":0.41},{"x":4312,"y":-0.37},{"x":4325,"y":0.26},{"x":4337,"y":-0.26},
      {"x":4350,"y":0.44},{"x":4362,"y":-0.49},{"x":4375,"y":0.33},{"x":4387,"y":-0.23},
      {"x":4400,"y":0.55},{"x":4412,"y":-0.39},{"x":4425,"y":0.28},{"x":4437,"y":-0.20},
      {"x":4450,"y":0.46},{"x":4462,"y":-0.42},{"x":4475,"y":0.21},{"x":4487,"y":-0.28},
      {"x":4500,"y":0.43},{"x":4512,"y":-0.46},{"x":4525,"y":0.32},{"x":4537,"y":-0.17},
      {"x":4550,"y":0.46},{"x":4562,"y":-0.65},{"x":4575,"y":0.24},{"x":4587,"y":-0.24},
      {"x":4600,"y":0.55},{"x":4612,"y":-0.53},{"x":4625,"y":0.36},{"x":4637,"y":-0.30},
      {"x":4650,"y":0.48},{"x":4662,"y":-0.55},{"x":4675,"y":0.30},{"x":4687,"y":-0.18},
      {"x":4700,"y":0.53},{"x":4712,"y":-0.39},{"x":4725,"y":0.27},{"x":4737,"y":-0.25},
      {"x":4750,"y":0.49},{"x":4762,"y":-0.51},{"x":4775,"y":0.35},{"x":4787,"y":-0.21},
      {"x":4800,"y":0.72},{"x":4812,"y":-0.39},{"x":4825,"y":0.31},{"x":4837,"y":-0.17},
      {"x":4850,"y":0.53},{"x":4862,"y":-0.43},{"x":4875,"y":0.24},{"x":4887,"y":-0.25},
      {"x":4900,"y":0.57},{"x":4912,"y":-0.36},{"x":4925,"y":0.35},{"x":4937,"y":-0.14},
      {"x":4950,"y":0.68},{"x":4962,"y":-0.44},{"x":4975,"y":0.26},{"x":4987,"y":-0.22},
      {"x":4999,"y":0.40}
    ]
  },
  "concat": [
    {
      "width": 300, "height": 288,
      "title": {"text": "std of initial Gaussian Distribution: 1.0", "frame": "group", "baseline": "alphabetic", "offset": -7},
      "data": {"name": "s10"},
      "mark": {"type": "line", "color": "#1f77b4", "strokeWidth": 1.5},
      "encoding": {
        "x": {"field": "x", "type": "quantitative", "scale": {"domain": [-250, 5249], "nice": false, "zero": false}, "axis": {"values": [0, 1000, 2000, 3000, 4000, 5000], "format": "d", "title": "Seqence_len"}},
        "y": {"field": "y", "type": "quantitative", "scale": {"domain": [-0.203, 1.058], "nice": false, "zero": false}, "axis": {"values": [-0.2, 0, 0.2, 0.4, 0.6, 0.8, 1.0], "format": ".1f", "title": "Activation score"}}
      }
    },
    {
      "width": 300, "height": 288,
      "title": {"text": "std of initial Gaussian Distribution: 1.5", "frame": "group", "baseline": "alphabetic", "offset": -7},
      "data": {"name": "s15"},
      "mark": {"type": "line", "color": "#1f77b4", "strokeWidth": 1.5},
      "encoding": {
        "x": {"field": "x", "type": "quantitative", "scale": {"domain": [-250, 5249], "nice": false, "zero": false}, "axis": {"values": [0, 1000, 2000, 3000, 4000, 5000], "format": "d", "title": "Seqence_len"}},
        "y": {"field": "y", "type": "quantitative", "scale": {"domain": [-0.343, 1.068], "nice": false, "zero": false}, "axis": {"values": [-0.2, 0, 0.2, 0.4, 0.6, 0.8, 1.0], "format": ".1f", "title": "Activation score"}}
      }
    },
    {
      "width": 300, "height": 288,
      "title": {"text": "std of initial Gaussian Distribution: 2.0", "frame": "group", "baseline": "alphabetic", "offset": -7},
      "data": {"name": "s20"},
      "mark": {"type": "line", "color": "#1f77b4", "strokeWidth": 1.5},
      "encoding": {
        "x": {"field": "x", "type": "quantitative", "scale": {"domain": [-250, 5249], "nice": false, "zero": false}, "axis": {"values": [0, 1000, 2000, 3000, 4000, 5000], "format": "d", "title": "Seqence_len"}},
        "y": {"field": "y", "type": "quantitative", "scale": {"domain": [-0.52, 1.08], "nice": false, "zero": false}, "axis": {"values": [-0.4, -0.2, 0, 0.2, 0.4, 0.6, 0.8, 1.0], "format": ".1f", "title": "Activation score"}}
      }
    },
    {
      "width": 300, "height": 288,
      "title": {"text": "std of initial Gaussian Distribution: 2.5", "frame": "group", "baseline": "alphabetic", "offset": -7},
      "data": {"name": "s25"},
      "mark": {"type": "line", "color": "#1f77b4", "strokeWidth": 1.5},
      "encoding": {
        "x": {"field": "x", "type": "quantitative", "scale": {"domain": [-250, 5249], "nice": false, "zero": false}, "axis": {"values": [0, 1000, 2000, 3000, 4000, 5000], "format": "d", "title": "Seqence_len"}},
        "y": {"field": "y", "type": "quantitative", "scale": {"domain": [-0.72, 1.09], "nice": false, "zero": false}, "axis": {"values": [-0.6, -0.4, -0.2, 0, 0.2, 0.4, 0.6, 0.8, 1.0], "format": ".1f", "title": "Activation score"}}
      }
    }
  ],
  "config": {
    "font": "DejaVu Sans",
    "view": {"stroke": "#000000", "strokeWidth": 1},
    "axis": {"grid": false, "domain": false, "tickColor": "#000000", "tickSize": 3.5, "tickWidth": 0.8, "labelFont": "DejaVu Sans", "labelFontSize": 10, "labelColor": "#000000", "labelPadding": 3, "titleFont": "DejaVu Sans", "titleFontSize": 10, "titleFontWeight": "normal", "titleColor": "#000000"},
    "axisX": {"titlePadding": 2},
    "axisY": {"titlePadding": 7},
    "title": {"font": "DejaVu Sans", "fontSize": 12, "fontWeight": "normal", "color": "#000000"}
  }
}
